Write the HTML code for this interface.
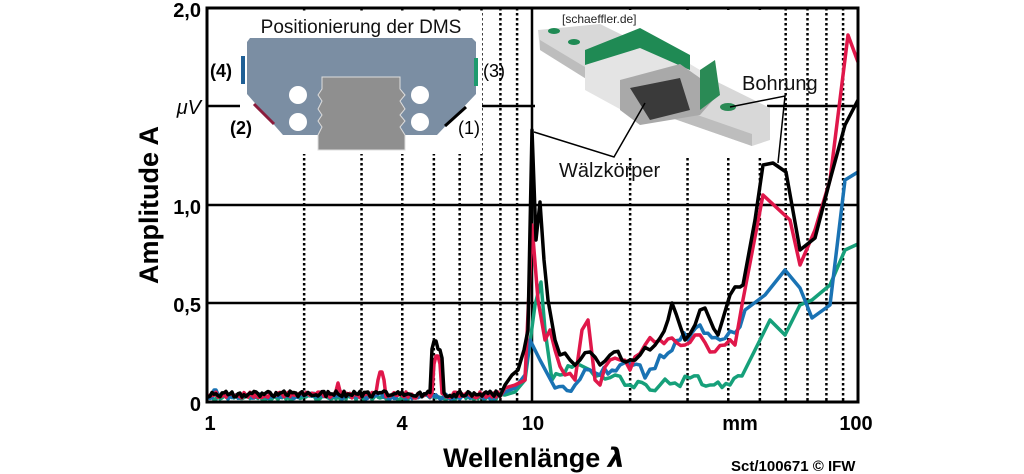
<!DOCTYPE html>
<html><head><meta charset="utf-8"><style>
html,body{margin:0;padding:0;background:#fff;width:1024px;height:474px;overflow:hidden}
text{font-family:"Liberation Sans",sans-serif}
</style></head><body>
<svg id="s" width="1024" height="474" viewBox="0 0 1024 474" xmlns="http://www.w3.org/2000/svg">
<g id="grid" stroke="#000" stroke-width="2.5" stroke-dasharray="2.5,2.5"></g>
<g stroke="#000" stroke-width="2.5">
<line x1="207" y1="106" x2="858" y2="106"/>
<line x1="207" y1="205" x2="858" y2="205"/>
<line x1="207" y1="303" x2="858" y2="303"/>
<line x1="532" y1="8" x2="532" y2="402"/>
</g>
<!-- left inset -->
<g>
<rect x="240" y="12" width="242" height="142" fill="#fff"/>
<text x="361" y="33" font-size="19" text-anchor="middle" fill="#111">Positionierung der DMS</text>
<polygon points="250,38 472,38 476,42 476,94 437,135 283,135 247,94 247,42" fill="#7b8ea3"/>
<polygon points="322,77 400,77 400,89 405,95 400,101 405,109 400,115 405,121 400,127 405,135 405,150 318,150 318,135 322,127 318,121 322,115 318,109 322,101 318,95 322,89" fill="#8f8f8f" stroke="#ddd" stroke-width="1"/>
<circle cx="298" cy="95" r="9" fill="#fff"/><circle cx="298" cy="122" r="9" fill="#fff"/>
<circle cx="420" cy="95" r="9" fill="#fff"/><circle cx="420" cy="122" r="9" fill="#fff"/>
<rect x="241" y="56" width="4" height="28" fill="#1f5f95"/>
<rect x="474" y="58" width="4" height="28" fill="#1e9a6e"/>
<line x1="254" y1="104" x2="274" y2="124" stroke="#8a1c3c" stroke-width="3"/>
<line x1="445" y1="126" x2="466" y2="107" stroke="#000" stroke-width="3"/>
<text x="210" y="77" font-size="18" font-weight="bold">(4)</text>
<text x="483" y="77" font-size="18">(3)</text>
<text x="230" y="134" font-size="18" font-weight="bold">(2)</text>
<text x="458" y="134" font-size="18">(1)</text>
</g>
<!-- right photo -->
<g>
<rect x="535" y="10" width="232" height="148" fill="#fff"/>
<text x="562" y="23" font-size="12" fill="#222">[schaeffler.de]</text>
<polygon points="538,30 600,24 770,108 770,140 752,146 620,100 540,50" fill="#d8d8d8"/>
<polygon points="540,50 620,100 752,146 752,134 620,88 540,40" fill="#bdbdbd"/>
<polygon points="585,60 640,34 700,70 700,82 640,120 585,90" fill="#e4e4e4"/>
<polygon points="585,50 640,28 690,55 690,70 640,48 585,65" fill="#1f8a54"/>
<polygon points="620,80 680,64 720,92 700,115 640,125 620,110" fill="#a9a9a9"/>
<polygon points="630,88 680,78 690,110 650,120" fill="#3a3a3a"/>
<polygon points="700,70 715,60 720,95 700,110" fill="#2a8a55"/>
<ellipse cx="728" cy="107" rx="8" ry="4" fill="#2a8a55"/>
<ellipse cx="554" cy="31" rx="6" ry="3" fill="#1f8a54"/>
<ellipse cx="574" cy="42" rx="6" ry="3" fill="#1f8a54"/>
<text x="742" y="90" font-size="20" fill="#111">Bohrung</text>
<text x="559" y="177" font-size="20" fill="#111">Wälzkörper</text>
<polyline points="534,132 614,157 645,103" fill="none" stroke="#000" stroke-width="1.5"/>
<polyline points="730,107 785,96 778,163" fill="none" stroke="#000" stroke-width="1.5"/>
</g>
<g id="curves" fill="none" stroke-width="3.5" stroke-linejoin="round"></g>
<rect x="207" y="8" width="651" height="394" fill="none" stroke="#000" stroke-width="3"/>
<g font-size="20" font-weight="bold" text-anchor="end">
<text x="201" y="17">2,0</text>
<text x="201" y="114" font-style="italic" font-weight="normal">μV</text>
<text x="201" y="214">1,0</text>
<text x="201" y="312">0,5</text>
<text x="201" y="411">0</text>
</g>
<g font-size="20" font-weight="bold" text-anchor="middle">
<text x="210" y="430">1</text>
<text x="402" y="430">4</text>
<text x="533" y="430">10</text>
<text x="740" y="430">mm</text>
<text x="856" y="430">100</text>
</g>
<text x="534" y="467" font-size="27" font-weight="bold" text-anchor="middle">Wellenlänge <tspan font-style="italic" font-family="DejaVu Sans">λ</tspan></text>
<text transform="translate(158,205) rotate(-90)" font-size="27" font-weight="bold" text-anchor="middle">Amplitude A</text>
<text x="731" y="471" font-size="15" font-weight="bold">Sct/100671 © IFW</text>
</svg>
<script>
var g=document.getElementById('grid');
function X(v){return 206+326*Math.log10(v);}
[2,3,4,5,6,7,8,9,20,30,40,50,60,70,80,90].forEach(function(v){
 var l=document.createElementNS('http://www.w3.org/2000/svg','line');
 var x=X(v);l.setAttribute('x1',x);l.setAttribute('x2',x);l.setAttribute('y1',8);l.setAttribute('y2',402);g.appendChild(l);});
var seed=1;function r(){seed=(seed*16807)%2147483647;return seed/2147483647;}
function noisy(base,spikes,end){var p=[];for(var x=208;x<=end;x+=2){var y=base-r()*6;spikes.forEach(function(s){if(Math.abs(x-s[0])<4)y=Math.min(y,s[1]+Math.abs(x-s[0])*4);});p.push(x+','+y.toFixed(1));}return p;}
function jit(str){var pts=str.split(' ').map(function(s){var a=s.split(',');return [+a[0],+a[1]];});var out=[];
 for(var i=0;i<pts.length-1;i++){var a=pts[i],b=pts[i+1];out.push(a[0]+','+a[1]);
  if(a[0]>=543&&b[0]<=745){var n=Math.floor((b[0]-a[0])/4);for(var k=1;k<n;k++){var t=k/n;out.push((a[0]+(b[0]-a[0])*t).toFixed(1)+','+(a[1]+(b[1]-a[1])*t+(r()-0.5)*12).toFixed(1));}}}
 var l=pts[pts.length-1];out.push(l[0]+','+l[1]);return out.join(' ');}
var C={
'#000':[noisy(397,[[435,337],[440,350]],500),'505,385 512,375 518,370 524,350 528,330 532,130 536,240 540,202 544,260 548,300 555,340 560,355 570,360 580,360 590,352 600,365 610,355 630,360 640,355 650,350 660,338 672,303 685,340 700,310 705,308 718,335 730,295 740,287 743,285 755,220 763,165 773,163 786,172 800,250 815,238 830,180 845,125 858,100'],
'#e0174a':[noisy(398,[[338,383],[381,368],[437,352]],500),'505,388 515,385 525,380 532,225 538,300 545,340 550,330 555,350 565,375 575,380 582,330 588,320 595,380 600,385 610,360 620,360 630,370 645,345 660,340 672,338 685,345 695,335 710,352 725,345 735,345 742,305 763,195 790,220 800,265 815,230 830,180 848,35 858,62'],
'#1a73b4':[noisy(399,[[215,386]],500),'505,392 515,388 525,375 530,340 540,360 555,388 575,385 590,370 600,375 620,365 640,365 645,378 660,355 680,340 700,325 720,340 735,333 745,310 765,295 785,270 800,288 812,318 830,305 845,180 858,172'],
'#16a07a':[noisy(400,[],500),'505,395 515,392 525,380 535,305 541,282 545,330 552,380 560,375 580,365 590,370 600,375 615,375 630,385 650,390 660,385 675,383 690,378 710,385 730,385 742,376 750,360 760,340 770,320 785,335 800,305 812,300 830,285 845,250 858,244']};
var cg=document.getElementById('curves');
['#16a07a','#1a73b4','#e0174a','#000'].forEach(function(c){
 var pl=document.createElementNS('http://www.w3.org/2000/svg','polyline');
 pl.setAttribute('points',C[c][0].join(' ')+' '+jit(C[c][1]));pl.setAttribute('stroke',c);cg.appendChild(pl);});
</script>
</body></html>
